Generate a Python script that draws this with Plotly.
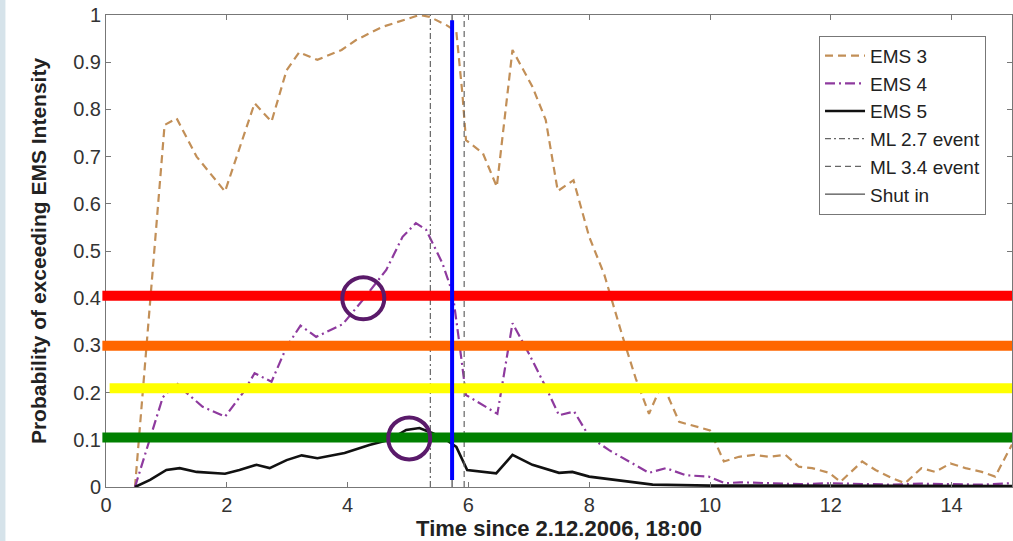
import plotly.graph_objects as go

# ---- data ----
ems3_x = [0.48, 0.97, 1.17, 1.5, 1.97, 2.46, 2.74, 2.99, 3.2, 3.5, 3.9, 4.14, 4.58, 4.91, 5.19, 5.36,
          5.63, 5.8, 5.9, 5.96, 6.24, 6.47, 6.73, 7.06, 7.28, 7.48, 7.74, 8.0, 8.25, 8.55, 8.77, 8.99,
          9.21, 9.49, 9.85, 10.0, 10.23, 10.48, 10.73, 10.98, 11.25, 11.47, 11.69, 11.97, 12.16, 12.52,
          12.74, 13.01, 13.23, 13.5, 13.73, 13.98, 14.23, 14.5, 14.72, 15.0]
ems3_y = [0.0, 0.767, 0.781, 0.70, 0.626, 0.813, 0.774, 0.883, 0.921, 0.905, 0.926, 0.947, 0.975, 0.989, 1.0, 0.996,
          0.979, 0.965, 0.834, 0.735, 0.707, 0.636, 0.926, 0.848, 0.778, 0.627, 0.65, 0.53, 0.45, 0.32, 0.23, 0.155,
          0.22, 0.138, 0.125, 0.12, 0.054, 0.064, 0.068, 0.064, 0.068, 0.043, 0.04, 0.03, 0.011, 0.054,
          0.036, 0.019, 0.008, 0.04, 0.032, 0.05, 0.04, 0.032, 0.022, 0.09]

ems4_x = [0.48, 0.94, 1.17, 1.33, 1.6, 1.97, 2.27, 2.46, 2.74, 2.99, 3.22, 3.48, 3.92, 4.25, 4.64, 4.91,
          5.13, 5.3, 5.57, 5.74, 5.85, 5.96, 6.48, 6.73, 7.0, 7.28, 7.5, 7.75, 8.0, 8.33, 8.66, 8.99,
          9.27, 9.6, 9.98, 10.25, 10.5, 11.0, 11.5, 12.0, 12.5, 13.0, 13.5, 14.0, 14.5, 15.0]
ems4_y = [0.0, 0.19, 0.22, 0.20, 0.17, 0.149, 0.2, 0.241, 0.223, 0.297, 0.342, 0.318, 0.345, 0.396, 0.46, 0.53,
          0.559, 0.545, 0.474, 0.41, 0.305, 0.195, 0.155, 0.347, 0.283, 0.212, 0.152, 0.16, 0.107, 0.078, 0.054, 0.03,
          0.04, 0.025, 0.022, 0.008, 0.01, 0.008, 0.006, 0.008, 0.006, 0.005, 0.007, 0.006, 0.005, 0.008]

ems5_x = [0.48, 0.73, 1.0, 1.22, 1.5, 1.97, 2.21, 2.49, 2.71, 2.99, 3.24, 3.5, 3.95, 4.36, 4.69, 4.97,
          5.19, 5.41, 5.63, 5.8, 5.98, 6.46, 6.73, 7.06, 7.5, 7.72, 8.0, 8.66, 9.05, 10.0, 15.0]
ems5_y = [0.0, 0.015, 0.036, 0.04, 0.032, 0.028, 0.036, 0.047, 0.04, 0.057, 0.067, 0.061, 0.072, 0.089, 0.1, 0.121,
          0.125, 0.114, 0.1, 0.085, 0.036, 0.029, 0.068, 0.047, 0.03, 0.032, 0.022, 0.011, 0.005, 0.003, 0.002]

ml27_x = 5.37
ml34_x = 5.93
shut_in_x = 5.73

x_ticks = [0, 2, 4, 6, 8, 10, 12, 14]
y_ticks = [0, 0.1, 0.2, 0.3, 0.4, 0.5, 0.6, 0.7, 0.8, 0.9, 1.0]
y_tick_labels = ["0", "0.1", "0.2", "0.3", "0.4", "0.5", "0.6", "0.7", "0.8", "0.9", "1"]

# hand-drawn overlay annotations
thresholds = [0.405, 0.299, 0.209, 0.105]
threshold_colors = ["#ff0000", "#ff6600", "#ffff00", "#008000"]
threshold_starts = [-0.004, -0.004, 0.004, -0.004]
circle_centers_x = [4.26, 5.02]
circle_centers_y = [0.40, 0.103]
marker_line_x = 5.73
marker_line_y = [0.015, 0.989]

FONT = "Liberation Sans, Arial, sans-serif"

fig = go.Figure()
fig.add_trace(go.Scatter(x=ems3_x, y=ems3_y, mode="lines", name="EMS 3", legendgroup="a",
                         line=dict(color="#c28f57", width=2.2, dash="8px,5px")))
fig.add_trace(go.Scatter(x=ems4_x, y=ems4_y, mode="lines", name="EMS 4", legendgroup="b",
                         line=dict(color="#8e3a9e", width=2.2, dash="10px,4px,2px,4px")))
fig.add_trace(go.Scatter(x=ems5_x, y=ems5_y, mode="lines", name="EMS 5", legendgroup="c",
                         line=dict(color="#111111", width=2.6)))
fig.add_trace(go.Scatter(x=[ml27_x, ml27_x], y=[0, 1], mode="lines", name="ML 2.7 event", legendgroup="d",
                         line=dict(color="#666666", width=1.2, dash="6px,3px,2px,3px")))
fig.add_trace(go.Scatter(x=[ml34_x, ml34_x], y=[0, 1], mode="lines", name="ML 3.4 event", legendgroup="e",
                         line=dict(color="#666666", width=1.2, dash="6px,4px")))
fig.add_trace(go.Scatter(x=[shut_in_x, shut_in_x], y=[0, 1], mode="lines", name="Shut in", legendgroup="f",
                         line=dict(color="#222222", width=1)))

shapes = []
# light left strip of the page background
shapes.append(dict(type="rect", xref="paper", yref="paper", x0=-0.117, x1=-0.111, y0=-0.2, y1=1.1,
                   fillcolor="#d6e3ea", line=dict(width=0), layer="below"))
for yv, col, xs in zip(thresholds, threshold_colors, threshold_starts):
    shapes.append(dict(type="line", xref="paper", yref="y", x0=xs, x1=1.0, y0=yv, y1=yv,
                       line=dict(color=col, width=10), layer="above"))
shapes.append(dict(type="line", xref="x", yref="y", x0=marker_line_x, x1=marker_line_x,
                   y0=marker_line_y[0], y1=marker_line_y[1], line=dict(color="#0000ff", width=4), layer="above"))
for cx, cy in zip(circle_centers_x, circle_centers_y):
    shapes.append(dict(type="circle", xref="x", yref="y", xsizemode="pixel", ysizemode="pixel",
                       xanchor=cx, yanchor=cy, x0=-21, x1=21, y0=-21, y1=21,
                       line=dict(color="#5a1a6a", width=4), layer="above"))

fig.update_layout(
    width=1013, height=541,
    margin=dict(l=106, r=1, t=15, b=54),
    paper_bgcolor="white", plot_bgcolor="white",
    font=dict(family=FONT, color="#222222"),
    shapes=shapes,
    showlegend=True,
    legend=dict(x=0.787, y=0.956, xanchor="left", yanchor="top",
                bgcolor="white", bordercolor="#777777", borderwidth=1,
                font=dict(size=19, family=FONT, color="#222222"),
                itemwidth=40,
                traceorder="grouped", tracegroupgap=0),
    xaxis=dict(range=[0, 15], tickvals=x_ticks, ticks="inside", ticklen=5, tickcolor="#777777",
               showline=True, linecolor="#777777", linewidth=1, mirror="ticks", showgrid=False, zeroline=False,
               tickfont=dict(size=20, color="#333333"),
               title=dict(text="<b>Time since 2.12.2006, 18:00</b>", font=dict(size=22, color="#222222"), standoff=3)),
    yaxis=dict(range=[0, 1], tickvals=y_ticks, ticktext=y_tick_labels, ticks="inside", ticklen=5,
               tickcolor="#777777", showline=True, linecolor="#777777", linewidth=1, mirror="ticks",
               showgrid=False, zeroline=False,
               tickfont=dict(size=20, color="#333333"),
               title=dict(text="<b>Probability of exceeding EMS Intensity</b>", font=dict(size=21, color="#222222"),
                          standoff=20)),
)

fig.write_html("out.html")
